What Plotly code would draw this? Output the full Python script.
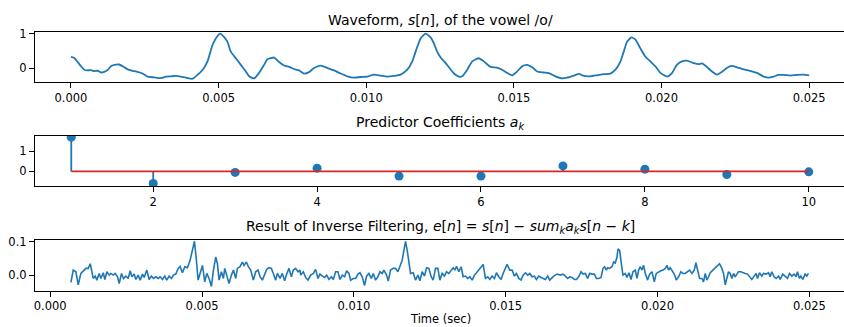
import plotly.graph_objects as go

# ---------------- data ----------------
# Waveform s[n] (time in ms, amplitude)
wave_t_ms = [0.000, 0.113, 0.226, 0.338, 0.451, 0.564, 0.677, 0.789, 0.902, 1.015, 1.128, 1.240,
             1.353, 1.466, 1.635, 1.748, 1.917, 2.086, 2.255, 2.424, 2.594, 2.819, 3.045, 3.214,
             3.383, 3.552, 3.721, 3.890, 4.116, 4.285, 4.454, 4.623, 4.793, 4.905, 5.052, 5.187,
             5.300, 5.413, 5.582, 5.751, 5.920, 6.033, 6.202, 6.371, 6.540, 6.653, 6.879, 7.048,
             7.217, 7.386, 7.555, 7.724, 7.894, 8.063, 8.232, 8.457, 8.683, 8.908, 9.134, 9.360,
             9.585, 9.811, 10.036, 10.262, 10.487, 10.713, 10.938, 11.164, 11.389, 11.559, 11.671,
             11.840, 12.010, 12.179,
             12.29, 12.40, 12.52, 12.69, 12.80, 12.97, 13.14, 13.25, 13.42, 13.59, 13.81, 13.98,
             14.21, 14.43, 14.60, 14.77, 14.94, 15.11, 15.28, 15.45, 15.62, 15.79, 16.01, 16.18,
             16.41, 16.63, 16.80, 17.03, 17.20, 17.37, 17.59, 17.82, 18.04, 18.27, 18.44, 18.61,
             18.72, 18.83, 18.98, 19.11, 19.28, 19.45, 19.62, 19.79, 19.96, 20.19, 20.36, 20.52,
             20.69, 20.86, 21.09, 21.26, 21.37, 21.54, 21.71, 21.88, 22.05, 22.21, 22.38, 22.55,
             22.78, 23.00, 23.23, 23.46, 23.63, 23.79, 23.96, 24.13, 24.36, 24.58, 24.81, 25.00]
wave_v = [0.33, 0.30, 0.18, 0.06, -0.04, -0.06, -0.05, -0.08, -0.07, -0.12, -0.10, -0.05,
          0.06, 0.10, 0.11, 0.06, -0.03, -0.07, -0.10, -0.15, -0.24, -0.26, -0.28, -0.24,
          -0.23, -0.22, -0.24, -0.27, -0.30, -0.19, -0.05, 0.20, 0.67, 0.86, 1.00, 0.90,
          0.76, 0.48, 0.29, 0.10, -0.09, -0.23, -0.29, -0.13, 0.10, 0.26, 0.31, 0.18,
          0.08, 0.04, -0.02, -0.06, -0.15, -0.11, 0.01, 0.08, 0.01, -0.06, -0.15, -0.23,
          -0.27, -0.25, -0.24, -0.18, -0.21, -0.24, -0.22, -0.18, -0.04, 0.20, 0.48,
          0.86, 1.00, 0.89,
          0.72, 0.48, 0.31, 0.15, 0.03, -0.15, -0.24, -0.23, -0.04, 0.20, 0.29, 0.20,
          0.04, 0.02, -0.04, -0.13, -0.20, -0.09, 0.06, 0.10, 0.03, -0.09, -0.12, -0.14,
          -0.23, -0.29, -0.27, -0.21, -0.16, -0.22, -0.23, -0.20, -0.17, -0.15, -0.04, 0.20,
          0.48, 0.76, 0.89, 0.83, 0.58, 0.34, 0.20, 0.06, -0.13, -0.24, -0.13, 0.10,
          0.20, 0.22, 0.15, 0.12, 0.14, 0.04, -0.09, -0.18, -0.10, 0.01, 0.07, 0.03,
          -0.03, -0.07, -0.13, -0.24, -0.27, -0.24, -0.19, -0.19, -0.21, -0.19, -0.18, -0.20]

# Predictor coefficients a_k
k_vals = [1, 2, 3, 4, 5, 6, 7, 8, 9, 10]
a_vals = [1.68, -0.59, -0.05, 0.16, -0.23, -0.23, 0.27, 0.11, -0.15, -0.02]

# Residual e[n] (time in ms, amplitude)
res_t_ms = [0.681, 0.758, 0.845, 0.922, 1.010, 1.098, 1.174, 1.251, 1.317, 1.361, 1.416, 1.481,
            1.536, 1.613, 1.668, 1.745, 1.799, 1.865, 1.942, 1.997, 2.073, 2.139, 2.216, 2.271,
            2.348, 2.413, 2.490, 2.567, 2.633, 2.688, 2.764, 2.819, 2.896, 2.962, 3.038, 3.093,
            3.181, 3.258, 3.334, 3.400, 3.477, 3.554, 3.620, 3.696, 3.773, 3.839, 3.916, 3.992,
            4.058, 4.135, 4.212, 4.277, 4.354, 4.431, 4.519, 4.606, 4.683, 4.749, 4.804, 4.870,
            4.935, 5.012, 5.089, 5.155, 5.232, 5.308, 5.374, 5.451, 5.506, 5.560, 5.637, 5.703,
            5.747, 5.813, 5.889, 5.966, 6.032, 6.109, 6.163, 6.251, 6.328, 6.383, 6.459, 6.525,
            6.602, 6.690, 6.766, 6.843, 6.909, 6.986, 7.063, 7.128, 7.205, 7.282, 7.348, 7.424,
            7.479, 7.567, 7.644, 7.720, 7.786, 7.863, 7.940, 8.005, 8.082, 8.159, 8.225,
            8.247, 8.335, 8.411, 8.488, 8.576, 8.664, 8.740, 8.817, 8.883, 8.960, 9.036, 9.102,
            9.179, 9.256, 9.322, 9.398, 9.475, 9.541, 9.618, 9.694, 9.760, 9.837, 9.892, 9.980,
            10.056, 10.133, 10.199, 10.275, 10.352, 10.418, 10.495, 10.572, 10.637, 10.714, 10.791,
            10.857, 10.933, 10.988, 11.076, 11.131, 11.208, 11.295, 11.372, 11.449, 11.515, 11.591,
            11.646, 11.701, 11.756, 11.811, 11.865, 11.953, 12.030, 12.107, 12.173, 12.249, 12.326,
            12.392, 12.469, 12.545, 12.611, 12.688, 12.765, 12.830, 12.907, 12.984, 13.050, 13.126,
            13.203, 13.269, 13.324, 13.379, 13.455, 13.532, 13.598, 13.675, 13.751, 13.817, 13.894,
            13.971, 14.037, 14.113, 14.190, 14.256, 14.333, 14.409, 14.475, 14.552, 14.629, 14.694,
            14.771, 14.848, 14.914, 14.990, 15.045, 15.133, 15.210, 15.286, 15.352, 15.429, 15.506,
            15.572, 15.648, 15.725, 15.791, 15.868, 15.944, 16.010, 16.087, 16.164, 16.229, 16.306,
            16.383, 16.449,
            16.581, 16.690, 16.800, 16.888, 16.964, 17.041, 17.107, 17.184, 17.260, 17.326, 17.403,
            17.480, 17.546, 17.622, 17.699, 17.765, 17.842, 17.918, 17.984, 18.061, 18.138, 18.203,
            18.258, 18.313, 18.357, 18.423, 18.500, 18.554, 18.609, 18.664, 18.697, 18.752, 18.807,
            18.861, 18.938, 18.993, 19.059, 19.125, 19.190, 19.267, 19.322, 19.377, 19.432, 19.486,
            19.541, 19.596, 19.673, 19.739, 19.815, 19.892, 19.958, 20.035, 20.111, 20.177, 20.254,
            20.309, 20.364, 20.418, 20.473, 20.550, 20.616, 20.692, 20.769, 20.835, 20.912, 20.989,
            21.054, 21.131, 21.208, 21.263, 21.318, 21.383, 21.460, 21.515, 21.570, 21.625, 21.679,
            21.734, 21.822, 21.899, 21.975, 22.041, 22.118, 22.173, 22.228, 22.282, 22.337, 22.392,
            22.447, 22.502, 22.557, 22.611, 22.666, 22.743, 22.809, 22.886, 22.962, 23.028, 23.105,
            23.182, 23.247, 23.291, 23.357, 23.434, 23.489, 23.576, 23.653, 23.708, 23.763, 23.840,
            23.905, 23.982, 24.037, 24.125, 24.201, 24.278, 24.344, 24.421, 24.497, 24.563, 24.607,
            24.673, 24.717, 24.783, 24.859, 24.914, 24.969]
res_v = [-0.022, 0.015, 0.010, -0.029, 0.005, 0.015, 0.020, 0.020, 0.034, 0.015, -0.010, -0.003,
         -0.015, 0.005, -0.010, 0.007, -0.013, 0.010, 0.000, 0.005, 0.000, 0.005, -0.005, -0.025,
         0.005, -0.010, -0.003, -0.010, 0.013, -0.005, 0.003, -0.013, 0.000, -0.015, 0.003, -0.007,
         0.015, -0.013, -0.003, -0.010, -0.005, -0.010, -0.005, -0.013, -0.003, -0.015, -0.003, -0.010,
         0.000, 0.003, 0.020, 0.026, 0.007, 0.025, 0.022, 0.044, 0.074, 0.101, 0.054, -0.015,
         0.005, 0.029, -0.020, 0.005, -0.010, -0.034, 0.015, 0.054, 0.034, -0.015, 0.010, -0.010,
         0.020, 0.000, -0.025, 0.000, 0.015, -0.010, 0.020, 0.025, 0.039, 0.029, 0.039, 0.025,
         0.015, -0.015, 0.010, 0.015, -0.005, -0.015, 0.000, 0.017, 0.022, 0.020, 0.005, -0.015,
         0.005, -0.010, 0.005, -0.017, 0.003, 0.020, -0.005, 0.015, 0.020, 0.010, 0.015,
         0.000, 0.010, -0.007, -0.015, 0.000, 0.005, 0.017, -0.010, 0.003, -0.003, -0.007, 0.000,
         -0.013, -0.005, -0.013, 0.010, 0.010, -0.013, 0.000, -0.005, 0.013, 0.005, -0.015, -0.010,
         -0.010, 0.003, 0.007, -0.005, -0.031, -0.003, 0.005, -0.010, 0.005, -0.015, -0.005,
         0.010, 0.005, 0.015, 0.000, -0.018, 0.015, 0.020, 0.020, 0.010, 0.029, 0.044,
         0.074, 0.101, 0.074, 0.034, 0.005, 0.007, -0.015, 0.000, -0.017, 0.010, -0.003,
         0.022, 0.020, -0.005, -0.015, 0.020, 0.020, -0.015, 0.005, -0.003, 0.010, 0.005,
         0.015, 0.022, 0.015, 0.026, 0.010, 0.025, -0.005, -0.003, -0.010, -0.005, -0.015,
         0.000, 0.007, 0.015, 0.025, 0.032, -0.010, -0.005, -0.013, -0.003, -0.010, 0.007,
         -0.005, -0.013, 0.005, 0.020, 0.032, 0.015, 0.015, -0.003, 0.005, -0.010, -0.015,
         0.000, 0.007, 0.000, 0.005, -0.005, -0.003, -0.013, -0.003, -0.007, -0.010, -0.013,
         -0.003, -0.015,
         -0.003, 0.003, 0.000, 0.003, -0.003, -0.010, -0.005, -0.007, -0.013, -0.013, -0.005,
         0.010, 0.003, 0.005, -0.010, 0.005, 0.003, 0.003, -0.010, -0.010, -0.007, 0.020,
         0.025, 0.015, 0.022, 0.020, 0.025, 0.039, 0.036, 0.054, 0.078, 0.074, 0.034,
         0.000, 0.005, -0.007, 0.007, -0.013, 0.010, 0.015, -0.010, 0.015, 0.025, 0.015,
         0.029, 0.005, -0.015, 0.003, 0.010, -0.020, 0.005, 0.010, 0.013, 0.015, 0.020,
         0.029, 0.015, 0.022, 0.015, 0.003, -0.015, -0.005, 0.010, 0.005, 0.005, 0.010,
         0.015, 0.005, 0.015, 0.037, 0.010, -0.010, -0.010, -0.020, 0.005, -0.015, -0.005,
         0.007, 0.015, 0.022, 0.026, 0.034, 0.020, 0.005, -0.029, -0.010, 0.010, 0.005,
         -0.010, 0.005, -0.005, 0.003, 0.010, 0.010, 0.007, 0.005, 0.003, -0.005, -0.013,
         -0.003, 0.005, -0.010, 0.007, -0.003, 0.005, 0.003, 0.007, -0.005, 0.010, -0.005,
         -0.010, -0.003, -0.013, 0.003, -0.003, -0.010, 0.005, -0.003, 0.003, -0.005, 0.010,
         -0.010, -0.003, -0.013, 0.003, -0.003, 0.005]

time_ticks = [0.000, 0.005, 0.010, 0.015, 0.020, 0.025]
k_ticks = [2, 4, 6, 8, 10]

# ---------------- figure ----------------
W, H = 844, 327
C0 = "#1f77b4"
C3 = "#d62728"
FONT = "DejaVu Sans"

wave_t = [t / 1000.0 for t in wave_t_ms]
res_t = [t / 1000.0 for t in res_t_ms]

stem_x, stem_y = [], []
for k, a in zip(k_vals, a_vals):
    stem_x += [k, k, None]
    stem_y += [0, a, None]

fig = go.Figure()
fig.add_trace(go.Scatter(x=wave_t, y=wave_v, mode="lines",
                         line=dict(color=C0, width=1.8, shape="spline", smoothing=0.5),
                         xaxis="x", yaxis="y", showlegend=False, hoverinfo="skip"))
fig.add_trace(go.Scatter(x=stem_x, y=stem_y, mode="lines", line=dict(color=C0, width=1.8),
                         xaxis="x2", yaxis="y2", showlegend=False, hoverinfo="skip"))
fig.add_trace(go.Scatter(x=k_vals, y=a_vals, mode="markers", marker=dict(color=C0, size=9),
                         xaxis="x2", yaxis="y2", showlegend=False))
fig.add_trace(go.Scatter(x=[k_vals[0], k_vals[-1]], y=[0, 0], mode="lines",
                         line=dict(color=C3, width=1.8),
                         xaxis="x2", yaxis="y2", showlegend=False, hoverinfo="skip"))
fig.add_trace(go.Scatter(x=res_t, y=res_v, mode="lines", line=dict(color=C0, width=1.6),
                         xaxis="x3", yaxis="y3", showlegend=False, hoverinfo="skip"))


def px_x(p):
    return p / W


def px_y(p):
    return 1 - p / H


tickfont = dict(family=FONT, size=11.5, color="black")
common = dict(showline=True, linecolor="black", linewidth=1, ticks="outside", ticklen=5,
              tickwidth=1, tickcolor="black", showgrid=False, zeroline=False, tickfont=tickfont)

x_dom = [px_x(34), 1.0]

fig.update_layout(
    width=W, height=H, margin=dict(l=0, r=0, t=0, b=0),
    paper_bgcolor="white", plot_bgcolor="white",
    font=dict(family=FONT, color="black"),
    xaxis=dict(domain=x_dom, anchor="y", range=[-0.00122, 0.02618], tickvals=time_ticks,
               tickformat=".3f", mirror=True, **common),
    yaxis=dict(domain=[px_y(78), px_y(27)], anchor="x", range=[-0.388, 1.057], tickvals=[0, 1],
               **common),
    xaxis2=dict(domain=x_dom, anchor="y2", range=[0.557, 10.43], tickvals=k_ticks,
                mirror=True, **common),
    yaxis2=dict(domain=[px_y(184), px_y(133)], anchor="x2", range=[-0.725, 1.74], tickvals=[0, 1],
                **common),
    xaxis3=dict(domain=x_dom, anchor="y3", range=[-0.000503, 0.02614], tickvals=time_ticks,
                tickformat=".3f", mirror=True, **common),
    yaxis3=dict(domain=[px_y(290), px_y(238.7)], anchor="x3", range=[-0.0462, 0.1047],
                tickvals=[0.0, 0.1], tickformat=".1f", **common),
)

title_font = dict(family=FONT, size=14, color="black")
titles = [
    ("Waveform, <i>s</i>[<i>n</i>], of the vowel /o/", 15),
    ("Predictor Coefficients <i>a<sub>k</sub></i>", 120),
    ("Result of Inverse Filtering, <i>e</i>[<i>n</i>] = <i>s</i>[<i>n</i>] − "
     "<i>sum<sub>k</sub>a<sub>k</sub>s</i>[<i>n</i> − <i>k</i>]", 225.5),
]
for text, yc in titles:
    fig.add_annotation(text=text, xref="paper", yref="paper", x=px_x(440), y=px_y(yc),
                       xanchor="center", yanchor="middle", showarrow=False, font=title_font)

fig.add_annotation(text="Time (sec)", xref="paper", yref="paper", x=px_x(440), y=px_y(319),
                   xanchor="center", yanchor="middle", showarrow=False,
                   font=dict(family=FONT, size=11.5, color="black"))

fig.write_html(
    "out.html",
    config={"displayModeBar": False},
    post_script="document.body.style.margin='0';document.body.style.padding='0';"
                "document.body.style.overflow='hidden';",
)
